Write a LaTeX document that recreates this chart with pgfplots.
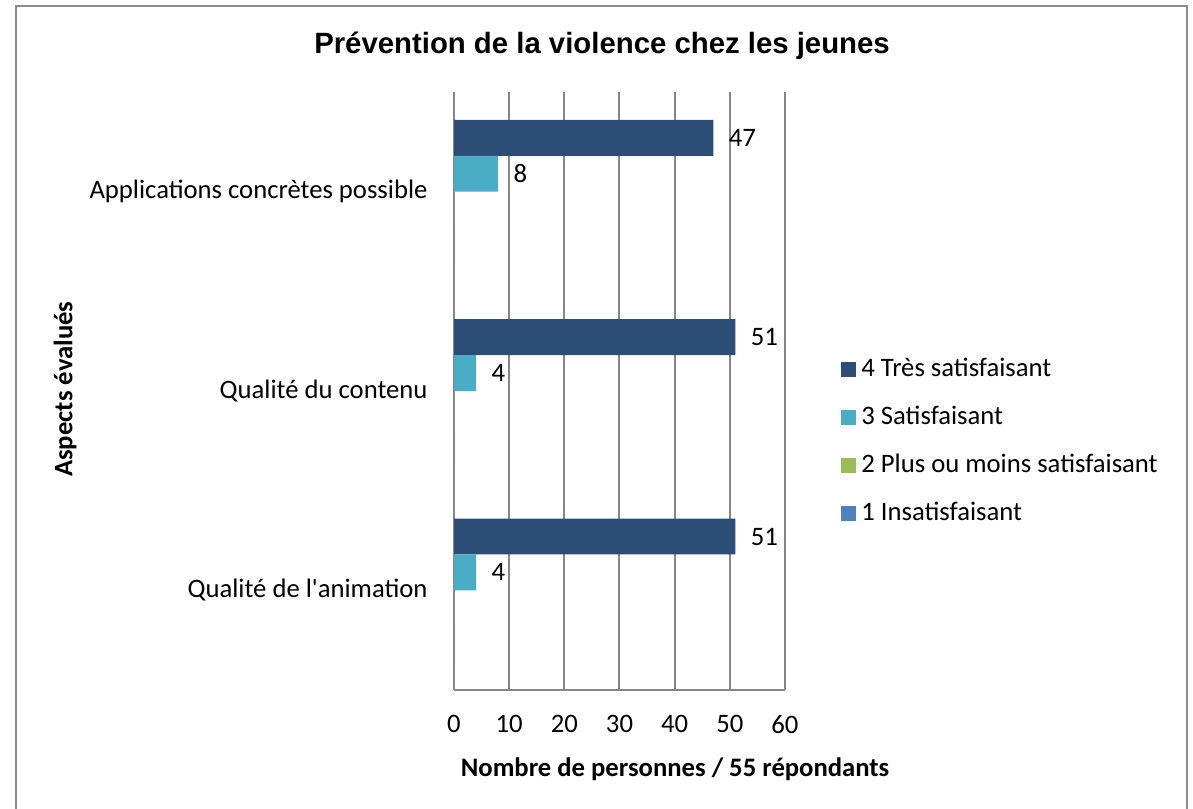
\documentclass[border=0pt]{standalone}
\usepackage{pgfplots}
\pgfplotsset{compat=1.18}
\usepackage{fontspec}
\setmainfont{Carlito}
\newfontfamily\titlefont{Liberation Sans}
\definecolor{s4}{HTML}{2C4D75}
\definecolor{s3}{HTML}{4BACC6}
\definecolor{s2}{HTML}{9BBB59}
\definecolor{s1}{HTML}{4F81BD}
\definecolor{gridgray}{HTML}{868686}
\definecolor{framegray}{HTML}{8C8C8C}
\begin{document}
\begin{tikzpicture}[x=0.375pt,y=0.375pt]
\useasboundingbox (0,0) rectangle (1193,808);
\draw[framegray, line width=0.75pt] (16,-10) -- (16,802) -- (1187,802) -- (1187,-10);
\node[font=\titlefont\fontsize{11}{13}\selectfont\bfseries] at (602,762) {Prévention de la violence chez les jeunes};
\begin{axis}[
  at={(170.25pt,44.25pt)}, anchor=south west,
  scale only axis, width=124.125pt, height=224.25pt,
  xbar, bar width=0.18,
  xmin=0, xmax=60, xtick={0,10,...,60},
  ymin=-0.5, ymax=2.5, ytick={0,1,2},
  yticklabels={Qualité de l\textquotesingle animation, Qualité du contenu, Applications concrètes possible},
  axis lines*=left,
  axis line style={gridgray, line width=0.75pt},
  xmajorgrids, major grid style={gridgray, line width=0.75pt},
  major tick length=0pt,
  tick label style={font=\fontsize{10}{12}\selectfont},
  xticklabel style={yshift=-6pt},
  yticklabel style={xshift=-6.4pt},
  /pgf/number format/assume math mode=true,
  xlabel={Nombre de personnes / 55 répondants},
  x label style={font=\fontsize{10}{12}\selectfont\bfseries, at={(axis description cs:0.668,-0.132)}, anchor=center},
  ylabel={Aspects évalués},
  y label style={font=\fontsize{10}{12}\selectfont\bfseries, at={(axis description cs:-1.175,0.503)}, anchor=center, rotate=0},
  nodes near coords,
  every node near coord/.append style={font=\fontsize{10}{12}\selectfont, xshift=2.3pt, /pgf/number format/assume math mode=true},
  legend style={draw=none, at={(axis description cs:1.168,0.416)}, anchor=west, inner sep=0pt, row sep=5.6pt, font=\fontsize{10}{12}\selectfont},
  legend cell align=left,
  legend image code/.code={\fill[#1] (0pt,-2.8pt) rectangle (5.6pt,2.8pt);},
]
\addplot[fill=s4, draw=none, bar shift=0.27] coordinates {(51,0) (51,1) (47,2)};
\addlegendentry{4 Très satisfaisant}
\addplot[fill=s3, draw=none, bar shift=0.09] coordinates {(4,0) (4,1) (8,2)};
\addlegendentry{3 Satisfaisant}
\addplot[fill=s2, draw=none, bar shift=-0.09, nodes near coords=\empty] coordinates {(0,0) (0,1) (0,2)};
\addlegendentry{2 Plus ou moins satisfaisant}
\addplot[fill=s1, draw=none, bar shift=-0.27, nodes near coords=\empty] coordinates {(0,0) (0,1) (0,2)};
\addlegendentry{1 Insatisfaisant}
\end{axis}
\end{tikzpicture}
\end{document}
